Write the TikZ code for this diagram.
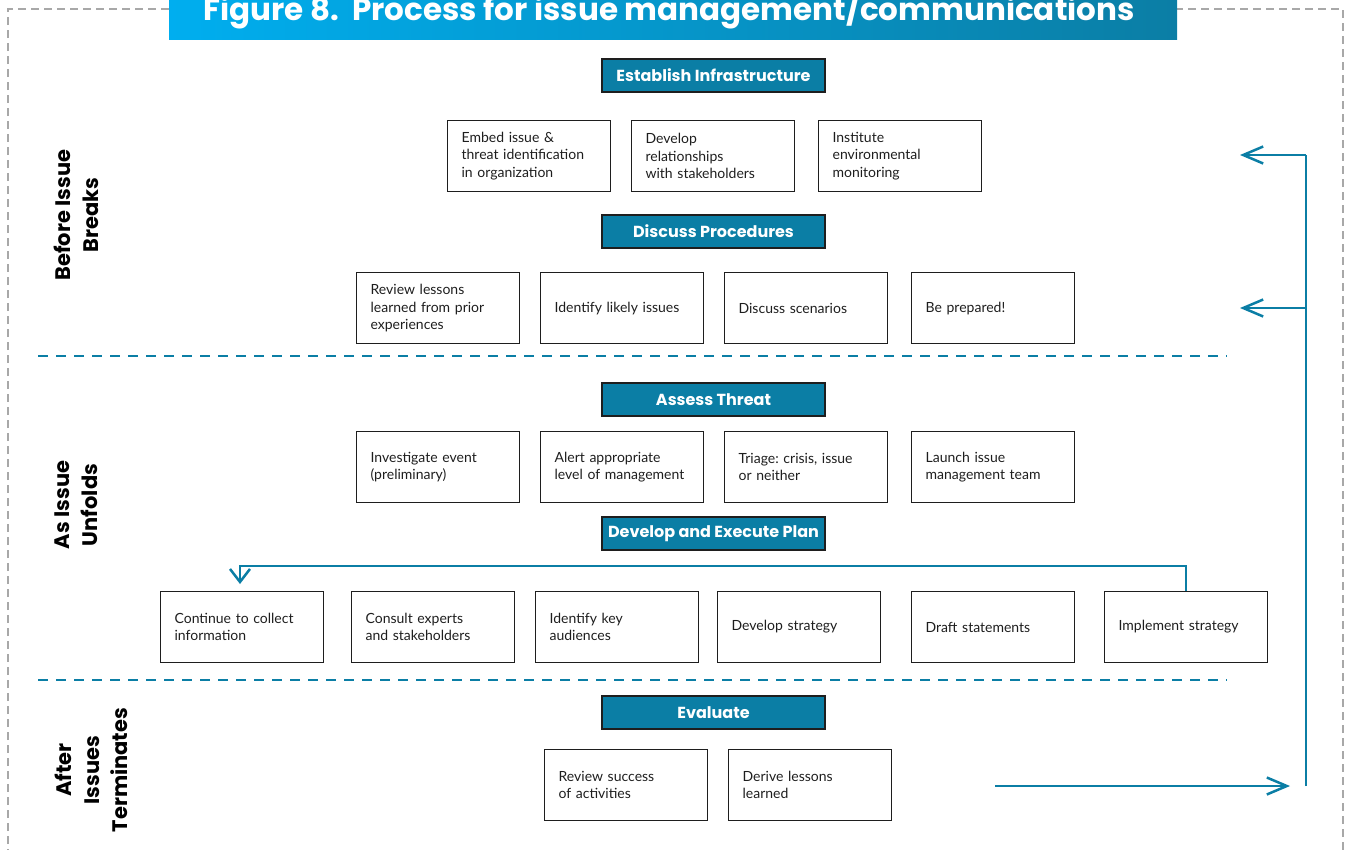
\documentclass[tikz,border=0pt]{standalone}
\usepackage{fontspec}
\setmainfont{Lato}
\newfontfamily\popfont{Poppins}
\usetikzlibrary{arrows.meta}
\frenchspacing
\definecolor{teal}{HTML}{0B7EA5}
\definecolor{lightblue}{HTML}{00AEEF}
\definecolor{bordergray}{HTML}{A8A8A8}
\definecolor{txt}{HTML}{1E1E1E}
\tikzset{
  hdr/.style={draw=txt, line width=1.2pt, fill=teal, minimum width=223pt, minimum height=33pt, inner sep=0pt,
    text=white, font=\popfont\fontsize{16}{19}\selectfont\bfseries},
  itembox/.style={draw=txt, line width=1.2pt, minimum width=163pt, minimum height=71pt, inner xsep=14pt, inner ysep=0pt,
    text width=135pt, align=left, anchor=north west, text=txt, font=\frenchspacing\fontsize{14}{17.5}\selectfont},
  sect/.style={rotate=90, align=center, font=\popfont\fontsize{21}{28}\selectfont\bfseries, text=black},
  sep/.style={teal, line width=2.5pt, dash pattern=on 10pt off 8pt},
  flow/.style={teal, line width=2.5pt},
  barb/.style={-{Straight Barb[length=20pt,width=17pt,line width=2.5pt]}},
  barbb/.style={-{Straight Barb[length=13pt,width=20pt,line width=2.5pt]}}
}
\begin{document}
\begin{tikzpicture}[x=1pt,y=-1pt]
\useasboundingbox (0,0) rectangle (1351,849);
% outer dashed border
\draw[bordergray, line width=2.8pt, dash pattern=on 8pt off 5pt] (8,870) -- (8,9) -- (1343,9) -- (1343,870);
% title bar
\shade[left color=lightblue, right color=teal] (169,-10) rectangle (1177,39);
\node[anchor=base, text=white, font=\popfont\fontsize{31}{34}\selectfont\bfseries, inner sep=0pt] (title) at (669,20) {Figure 8.\ \ Process for issue management/communications};

% section labels
\node[sect] (s1) at (76,215) {Before Issue\\Breaks};
\node[sect] (s2) at (76,505) {As Issue\\Unfolds};
\node[sect] (s3) at (91,770) {After\\Issues\\Terminates};

% separators
\draw[sep] (38,356) -- (1227,356);
\draw[sep] (38,680) -- (1227,680);

% headers
\node[hdr] (h1) at (713.5,75.5) {Establish Infrastructure};
\node[hdr] (h2) at (713.5,231.5) {Discuss Procedures};
\node[hdr] (h3) at (713.5,399.5) {Assess Threat};
\node[hdr] (h4) at (713.5,533.5) {Develop and Execute Plan};
\node[hdr] (h5) at (713.5,712.5) {Evaluate};

% row 1
\node[itembox] (a1) at (447,120) {Embed issue \&\\threat identification\\in organization};
\node[itembox] (a2) at (631,120) {Develop\\relationships\\with stakeholders};
\node[itembox] (a3) at (818,120) {Institute\\environmental\\monitoring};
% row 2
\node[itembox] (b1) at (356,272) {Review lessons\\learned from prior\\experiences};
\node[itembox] (b2) at (540,272) {Identify likely issues};
\node[itembox] (b3) at (724,272) {Discuss scenarios};
\node[itembox] (b4) at (911,272) {Be prepared!};
% row 3
\node[itembox] (c1) at (356,431) {Investigate event\\(preliminary)};
\node[itembox] (c2) at (540,431) {Alert appropriate\\\mbox{level of management}};
\node[itembox] (c3) at (724,431) {\mbox{Triage: crisis, issue}\\or neither};
\node[itembox] (c4) at (911,431) {Launch issue\\management team};
% row 4
\node[itembox] (d1) at (160,591) {Continue to collect\\information};
\node[itembox] (d2) at (351,591) {Consult experts\\and stakeholders};
\node[itembox] (d3) at (535,591) {Identify key\\audiences};
\node[itembox] (d4) at (717,591) {Develop strategy};
\node[itembox] (d5) at (911,591) {Draft statements};
\node[itembox] (d6) at (1104,591) {Implement strategy};
% row 5
\node[itembox] (e1) at (544,749) {Review success\\of activities};
\node[itembox] (e2) at (728,749) {Derive lessons\\learned};

% feedback arrow in plan row
\coordinate (fbend) at (240,584);
\draw[flow, barbb] (d6.north -| 1186,0) -- (1186,566) -- (240,566) -- (fbend);

% right loop
\coordinate (rtop) at (1306,155);
\coordinate (rmid) at (1306,308);
\coordinate (rbot) at (1306,786);
\coordinate (ttop) at (1240,155);
\coordinate (tmid) at (1240,308);
\coordinate (bstart) at (995,786);
\coordinate (bend) at (1290,786);
\draw[flow] (rbot) -- (rtop);
\draw[flow, barb] (rtop) -- (ttop);
\draw[flow, barb] (rmid) -- (tmid);
\draw[flow, barb] (bstart) -- (bend);
\end{tikzpicture}
\end{document}
